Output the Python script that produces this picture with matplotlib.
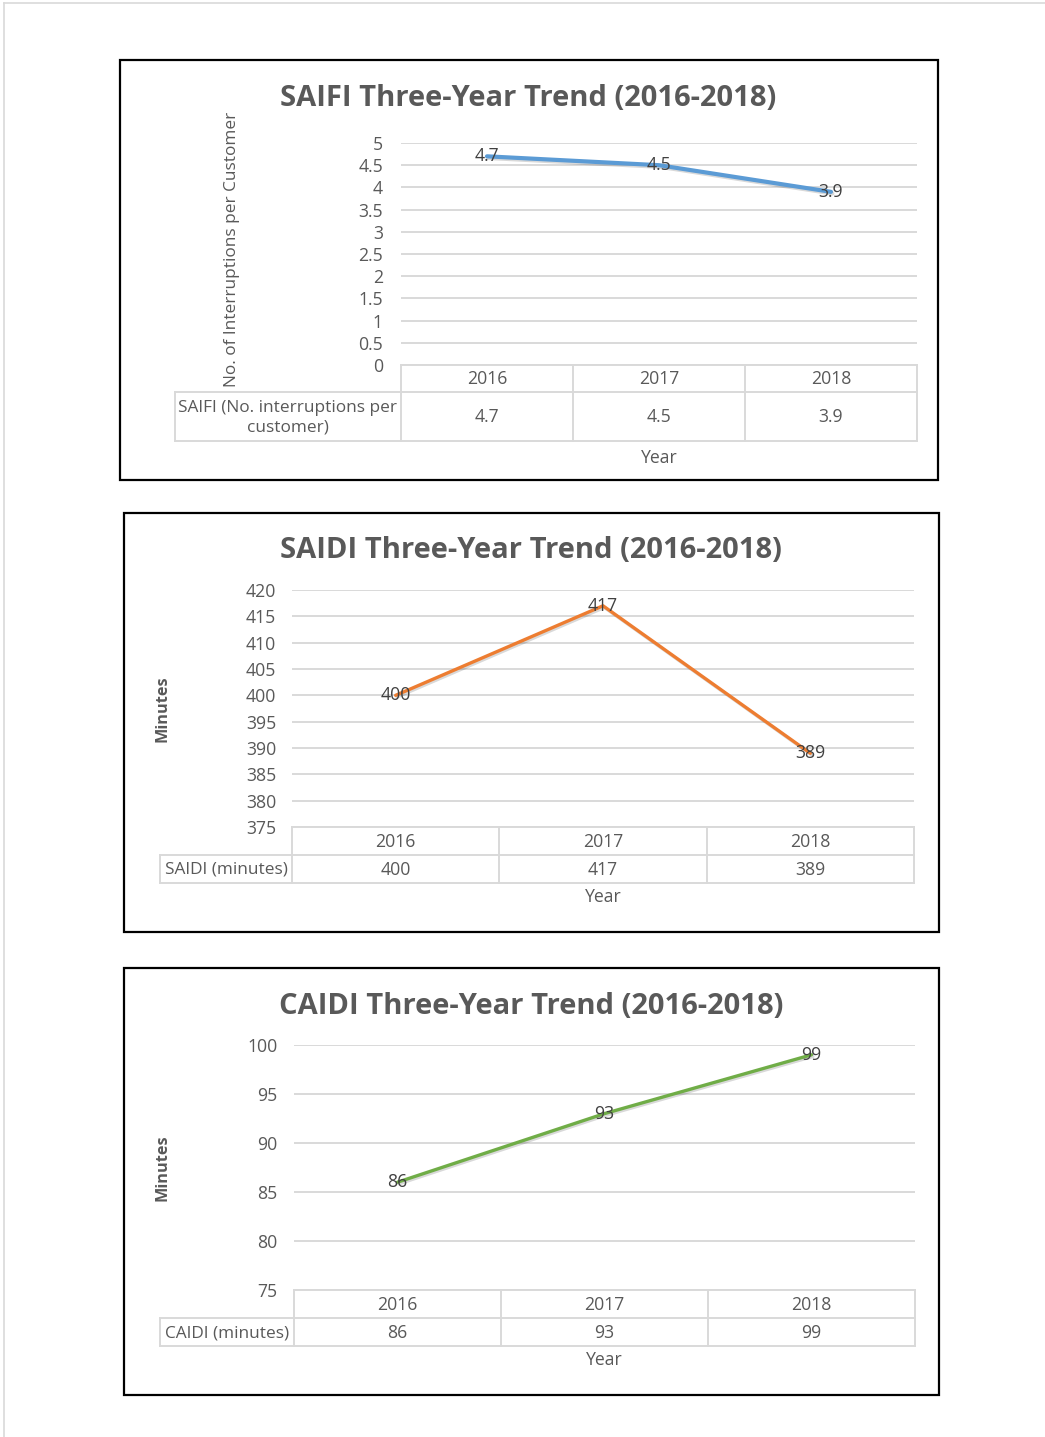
import matplotlib.pyplot as plt
from matplotlib import patheffects as pe

# data
years = ['2016', '2017', '2018']
saifi = [4.7, 4.5, 3.9]
saidi = [400, 417, 389]
caidi = [86, 93, 99]

saifi_ticks = [0, 0.5, 1, 1.5, 2, 2.5, 3, 3.5, 4, 4.5, 5]
saidi_ticks = [375, 380, 385, 390, 395, 400, 405, 410, 415, 420]
caidi_ticks = [75, 80, 85, 90, 95, 100]

W, H = 1045, 1437
TXT = '#595959'
GRID = '#D9D9D9'
FS = 12.7
plt.rcParams['font.family'] = ['Open Sans', 'DejaVu Sans']

fig = plt.figure(figsize=(W / 100, H / 100), dpi=100)
over = fig.add_axes([0, 0, 1, 1])
over.set_xlim(0, W)
over.set_ylim(H, 0)
over.axis('off')

# page border
over.plot([4, W], [3, 3], color=GRID, lw=1.2)
over.plot([4, 4], [3, H], color=GRID, lw=1.2)


def px_axes(x0, y0, x1, y1):
    return fig.add_axes([x0 / W, 1 - y1 / H, (x1 - x0) / W, (y1 - y0) / H])


def draw_chart(cfg):
    bx0, by0, bx1, by1 = cfg['box']
    over.add_patch(plt.Rectangle((bx0, by0), bx1 - bx0, by1 - by0, fill=False,
                                 ec='black', lw=1.6, zorder=5))
    over.text(cfg['title_xy'][0], cfg['title_xy'][1], cfg['title'], ha='center', va='center',
              fontsize=21, fontweight='bold', color=TXT)

    x0, y0, x1, y1 = cfg['plot']
    ax = px_axes(x0, y0, x1, y1)
    ax.set_xlim(-0.5, len(years) - 0.5)
    ax.set_ylim(cfg['ticks'][0], cfg['ticks'][-1])
    ax.set_yticks(cfg['ticks'])
    ax.set_yticklabels([f'{t:g}' for t in cfg['ticks']])
    ax.set_xticks([])
    for s in ax.spines.values():
        s.set_visible(False)
    ax.grid(axis='y', color=GRID, lw=1.4)
    ax.set_axisbelow(True)
    ax.tick_params(axis='y', length=0, pad=cfg['pad'], labelsize=FS, labelcolor=TXT)
    ax.patch.set_alpha(0)

    xs = range(len(years))
    ax.plot(xs, cfg['values'], color=cfg['color'], lw=cfg['lw'], solid_capstyle='round',
            path_effects=[pe.SimpleLineShadow(offset=(1.0, -1.2), shadow_color='black', alpha=0.15),
                          pe.Normal()], clip_on=False, zorder=3)
    for i, v in zip(xs, cfg['values']):
        ax.text(i, v, f'{v:g}', ha='center', va='center', fontsize=FS, color='#404040',
                zorder=4, clip_on=False)

    # y label
    over.text(cfg['ylabel_xy'][0], cfg['ylabel_xy'][1], cfg['ylabel'], rotation=90,
              ha='center', va='center', fontsize=cfg['ylabel_size'],
              fontweight=cfg['ylabel_weight'], color=TXT)

    # data table
    t0 = y1
    t1, t2 = cfg['rows']
    xl = cfg['label_left']
    n = len(years)
    edges = [x0 + k * (x1 - x0) / n for k in range(n + 1)]
    kw = dict(color=GRID, lw=1.4, zorder=2)
    over.plot([x0, x1], [t0, t0], **kw)
    over.plot([xl, x1], [t1, t1], **kw)
    over.plot([xl, x1], [t2, t2], **kw)
    over.plot([xl, xl], [t1, t2], **kw)
    for e in edges:
        over.plot([e, e], [t0, t2], **kw)
    for k, (yr, v) in enumerate(zip(years, cfg['values'])):
        cx = (edges[k] + edges[k + 1]) / 2
        over.text(cx, (t0 + t1) / 2 + 1, yr, ha='center', va='center', fontsize=FS, color=TXT)
        over.text(cx, (t1 + t2) / 2 + 1, f'{v:g}', ha='center', va='center', fontsize=FS, color=TXT)
    over.text((xl + x0) / 2, (t1 + t2) / 2 + 1, cfg['row_label'], ha='center', va='center',
              fontsize=FS - 0.3, color=TXT, linespacing=1.25)
    over.text(cfg['year_xy'][0], cfg['year_xy'][1], 'Year', ha='center', va='center',
              fontsize=FS, color=TXT)


charts = [
    dict(box=(120, 60, 938, 480), title='SAIFI Three-Year Trend (2016-2018)', title_xy=(528, 99),
         plot=(401, 143, 917, 365), ticks=saifi_ticks, values=saifi, pad=13,
         color='#5B9BD5', lw=3.0, ylabel='No. of Interruptions per Customer', ylabel_xy=(232, 249),
         ylabel_size=12.4, ylabel_weight='normal', rows=(392, 441), label_left=175,
         row_label='SAIFI (No. interruptions per\ncustomer)', year_xy=(659, 458)),
    dict(box=(124, 513, 939, 932), title='SAIDI Three-Year Trend (2016-2018)', title_xy=(531, 551),
         plot=(292, 590, 914, 827), ticks=saidi_ticks, values=saidi, pad=11.5,
         color='#ED7D31', lw=2.4, ylabel='Minutes', ylabel_xy=(163, 709),
         ylabel_size=11.7, ylabel_weight='bold', rows=(855, 883), label_left=160,
         row_label='SAIDI (minutes)', year_xy=(603, 897)),
    dict(box=(124, 968, 939, 1395), title='CAIDI Three-Year Trend (2016-2018)', title_xy=(531, 1006),
         plot=(294, 1045, 915, 1290), ticks=caidi_ticks, values=caidi, pad=12,
         color='#70AD47', lw=2.4, ylabel='Minutes', ylabel_xy=(163, 1168),
         ylabel_size=11.7, ylabel_weight='bold', rows=(1318, 1346), label_left=160,
         row_label='CAIDI (minutes)', year_xy=(604, 1360)),
]

for c in charts:
    draw_chart(c)

fig.savefig('out.png', dpi=100, facecolor='white')
